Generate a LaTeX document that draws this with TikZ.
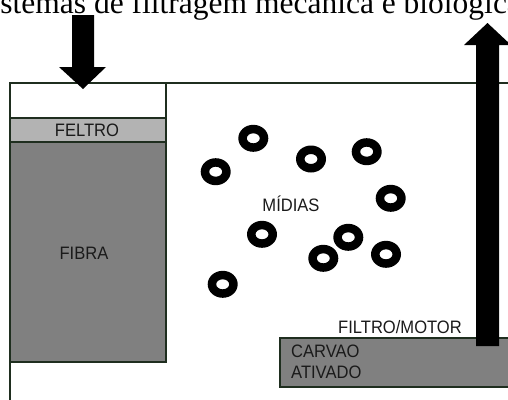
\documentclass[tikz,border=0pt]{standalone}
\usepackage{fontspec}
\setmainfont{Liberation Serif}
\newfontfamily\labelfont[FakeStretch=0.92]{Liberation Sans}
\definecolor{edge}{HTML}{1F2E1F}
\definecolor{feltro}{HTML}{B3B3B3}
\definecolor{fibra}{HTML}{808080}
\definecolor{txt}{HTML}{1A1A1A}
\tikzset{
  wall/.style={draw=edge, line width=1.8pt},
  lbl/.style={font=\labelfont\fontsize{18}{21.5}\selectfont, text=txt, inner sep=0pt},
  bigarrow/.style={fill=black},
  ring/.style={fill=black, even odd rule}
}
\begin{document}
\begin{tikzpicture}[x=1pt,y=-1pt]
\useasboundingbox (0,0) rectangle (508,399);
\clip (0,0) rectangle (508,399);
% title (clipped at the top, as in the reference)
\node[anchor=base west, inner sep=0pt, font=\fontsize{31.5}{34}\selectfont] (title) at (-26,13.5) {Sistemas de filtragem mecânica e biológica};
% left column
\draw[wall, fill=fibra] (10,142) rectangle (166,362);
\draw[wall, fill=feltro] (10,118) rectangle (166,142);
\draw[wall] (10,83) rectangle (166,118);
\draw[wall] (10,83) -- (10,400);
\draw[wall] (10,83) -- (510,83);
% carbon box
\draw[wall, fill=fibra] (280,338) rectangle (512,387);
% arrows
\fill[bigarrow] (72,15) -- (94,15) -- (94,67) -- (106,67) -- (83,89) -- (59,67) -- (72,67) -- cycle;
\fill[bigarrow] (476,346) -- (476,45) -- (464,45) -- (487.5,23) -- (511,45) -- (499,45) -- (499,346) -- cycle;
% labels
\node[lbl] (feltrolbl) at (87,130) {FELTRO};
\node[lbl] (fibralbl) at (84,253) {FIBRA};
\node[lbl] (midias) at (291,204) {MÍDIAS};
\node[lbl] (motor) at (400,327) {FILTRO/MOTOR};
\node[lbl, anchor=west, align=left] (carvao) at (291,362) {CARVAO\\ATIVADO};
% media rings
\foreach \cx/\cy in {253.3/138.3, 215.7/171.7, 311/159, 366.7/151.7, 390.7/198.3, 262/234.3, 348.3/237.3, 323.3/258.3, 386/254.3, 222.7/284.3}{
  \fill[ring] (\cx,\cy) ellipse [x radius=15pt, y radius=13.5pt] (\cx,\cy) ellipse [x radius=6.5pt, y radius=5pt];
}
\end{tikzpicture}
\end{document}
